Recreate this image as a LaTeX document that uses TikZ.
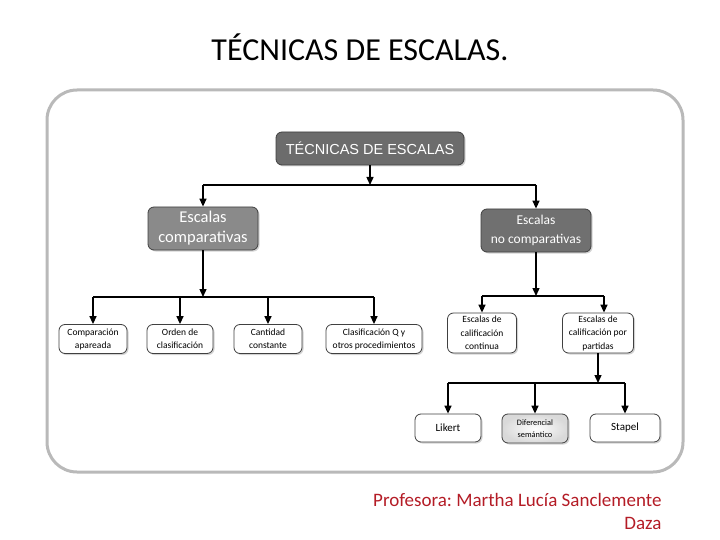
\documentclass[tikz,border=0pt]{standalone}
\usepackage{fontspec}
\setmainfont{Carlito}
\newfontfamily\arialf{Liberation Sans}
\usetikzlibrary{arrows.meta,positioning,shadows}
\frenchspacing

\definecolor{topgray}{RGB}{108,108,108}
\definecolor{cmpgray}{RGB}{138,138,138}
\definecolor{ncmpgray}{RGB}{112,112,112}
\definecolor{framegray}{RGB}{185,185,185}
\definecolor{footred}{RGB}{180,28,38}

\tikzset{
  box/.style={rounded corners=6pt, draw=black!75, line width=0.8pt, align=center,
    drop shadow={shadow xshift=1.5pt, shadow yshift=-1.5pt, opacity=0.35}},
  head/.style={box, fill=#1, text=white, inner sep=1pt},
  leaf/.style={box, fill=white, font=\fontsize{9.5}{13}\selectfont, inner sep=0.5pt},
  link/.style={-{Triangle[length=8pt,width=7pt]}, line width=1.4pt},
  bar/.style={line width=1.4pt}
}

\begin{document}
\begin{tikzpicture}[x=1pt,y=-1pt]
\useasboundingbox (0,0) rectangle (720,540);

\node (title) at (360,47) {\fontsize{32}{36}\selectfont TÉCNICAS DE ESCALAS.};
\draw[framegray, line width=3pt, rounded corners=30pt] (47,90) rectangle (683,472);

% levels
\node[head=topgray, minimum width=188pt, minimum height=33pt, font=\arialf\fontsize{14.5}{16}\selectfont](top) at (370,148.5) {TÉCNICAS DE ESCALAS};
\node[head=cmpgray, minimum width=110pt, minimum height=43pt, font=\fontsize{16.5}{20}\selectfont](cmp) at (203,228.5) {Escalas\\comparativas};
\node[head=ncmpgray, minimum width=110pt, minimum height=43pt, font=\fontsize{13.5}{19}\selectfont](ncmp) at (536,230.5) {Escalas\\no comparativas};

\node[leaf, minimum width=68pt, minimum height=29pt](apa) at (93,339) {Comparación\\apareada};
\node[leaf, minimum width=66pt, minimum height=29pt](ord) at (180,339) {Orden de\\clasificación};
\node[leaf, minimum width=68pt, minimum height=29pt](cant) at (268,339) {Cantidad\\constante};
\node[leaf, minimum width=96pt, minimum height=29pt](clq) at (374,339) {Clasificación Q y\\otros procedimientos};
\node[leaf, minimum width=69pt, minimum height=40pt, font=\fontsize{9.5}{13.5}\selectfont](cont) at (482,333) {Escalas de\\calificación\\continua};
\node[leaf, minimum width=71pt, minimum height=40pt, font=\fontsize{9.5}{13.5}\selectfont](part) at (598,333) {Escalas de\\calificación por\\partidas};

\node[leaf, minimum width=66pt, minimum height=28pt, font=\fontsize{11}{13}\selectfont](lik) at (448,428) {Likert};
\node[leaf, minimum width=66pt, minimum height=29pt, inner color=white, outer color=black!15, font=\fontsize{8.3}{12.5}\selectfont](dif) at (535,428.5) {Diferencial\\semántico};
\node[leaf, minimum width=70pt, minimum height=28pt, font=\fontsize{11}{13}\selectfont](sta) at (625,428) {Stapel};

% bars
\coordinate (b1) at (0,185);
\coordinate (b2) at (0,297);
\coordinate (b3) at (0,296);
\coordinate (b4) at (0,383);

\draw[link] (top) -- (top |- b1);
\draw[bar] (b1 -| cmp) -- (b1 -| ncmp);
\path[link]
(b1 -| cmp) edge (cmp)
(b1 -| ncmp) edge (ncmp);

\draw[link] (cmp) -- (cmp |- b2);
\draw[bar] (b2 -| apa) -- (b2 -| clq);
\path[link]
(b2 -| apa) edge (apa)
(b2 -| ord) edge (ord)
(b2 -| cant) edge (cant)
(b2 -| clq) edge (clq);

\draw[link] (ncmp) -- (ncmp |- b3);
\draw[bar] (b3 -| cont) -- ([xshift=6pt]b3 -| part);
\path[link]
(b3 -| cont) edge (cont)
([xshift=6pt]b3 -| part) edge ([xshift=6pt]part.north);

\draw[link] (part) -- (part |- b4);
\draw[bar] (b4 -| lik) -- (b4 -| sta);
\path[link]
(b4 -| lik) edge (lik)
(b4 -| dif) edge (dif)
(b4 -| sta) edge (sta);

% footer
\node[footred, anchor=base east, align=right, font=\fontsize{19}{23}\selectfont](prof) at (665,529) {Profesora: Martha Lucía Sanclemente\\Daza};
\end{tikzpicture}
\end{document}
